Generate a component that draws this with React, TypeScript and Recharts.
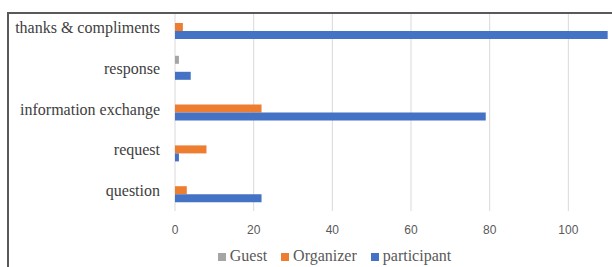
import React from "react";
import {
  BarChart,
  Bar,
  XAxis,
  YAxis,
  CartesianGrid,
  Legend,
} from "recharts";

const categories = [
  "thanks & compliments",
  "response",
  "information exchange",
  "request",
  "question",
];
const guest = [0, 1, 0, 0, 0];
const organizer = [2, 0, 22, 8, 3];
const participant = [110, 4, 79, 1, 22];
const xTicks = [0, 20, 40, 60, 80, 100];
const gridX = [0, 20, 40, 60, 80, 100, 120];

const series = [
  { key: "Guest", color: "#A5A5A5", values: guest },
  { key: "Organizer", color: "#ED7D31", values: organizer },
  { key: "participant", color: "#4472C4", values: participant },
];

const data = categories.map((name, i) => ({
  name,
  Guest: guest[i],
  Organizer: organizer[i],
  participant: participant[i],
}));

const serif = '"Liberation Serif", "Times New Roman", serif';

const LegendContent = () => (
  <div
    style={{
      height: 22,
      lineHeight: "22px",
      textAlign: "center",
      fontFamily: serif,
      fontSize: 16,
      color: "#595959",
      whiteSpace: "nowrap",
    }}
  >
    {series.map((s, i) => (
      <span key={s.key} style={{ marginLeft: i === 0 ? 0 : 14, fontFamily: serif }}>
        <span
          style={{
            display: "inline-block",
            width: 8,
            height: 8,
            background: s.color,
            marginRight: 4,
          }}
        />
        {s.key}
      </span>
    ))}
  </div>
);

export default function App() {
  return (
    <div
      style={{
        position: "absolute",
        left: 0,
        top: 0,
        width: 612,
        height: 267,
        overflow: "hidden",
        background: "#fff",
      }}
    >
      <BarChart
        width={660}
        height={267}
        layout="vertical"
        data={data}
        barSize={8}
        barGap={0}
        margin={{ top: 7, right: 13, left: 0, bottom: 0 }}
      >
        <CartesianGrid
          horizontal={false}
          stroke="#D9D9D9"
          verticalValues={gridX}
        />
        <XAxis
          type="number"
          domain={[0, 120]}
          ticks={xTicks}
          axisLine={false}
          tickLine={false}
          tickSize={6}
          tickMargin={8}
          height={34}
          interval={0}
          tick={{ fontSize: 12, fill: "#595959", fontFamily: '"Liberation Sans", Arial, sans-serif' }}
        />
        <YAxis
          type="category"
          dataKey="name"
          width={175}
          axisLine={false}
          tickLine={false}
          tickSize={6}
          tickMargin={9}
          interval={0}
          tick={{ fontSize: 16, fill: "#404040", fontFamily: serif }}
        />
        <Legend
          verticalAlign="bottom"
          content={<LegendContent />}
          wrapperStyle={{ left: 0, width: 669, bottom: 0 }}
        />
        {series.map((s) => (
          <Bar
            key={s.key}
            dataKey={s.key}
            fill={s.color}
            isAnimationActive={false}
          />
        ))}
      </BarChart>
      {/* frame: cover above the border, then draw the border lines */}
      <div
        style={{
          position: "absolute",
          left: 0,
          top: 0,
          width: 612,
          height: 12,
          background: "#fff",
        }}
      />
      <div
        style={{
          position: "absolute",
          left: 7,
          top: 12,
          width: 605,
          height: 255,
          borderTop: "2px solid #595959",
          borderLeft: "2px solid #595959",
          boxSizing: "border-box",
        }}
      />
    </div>
  );
}
